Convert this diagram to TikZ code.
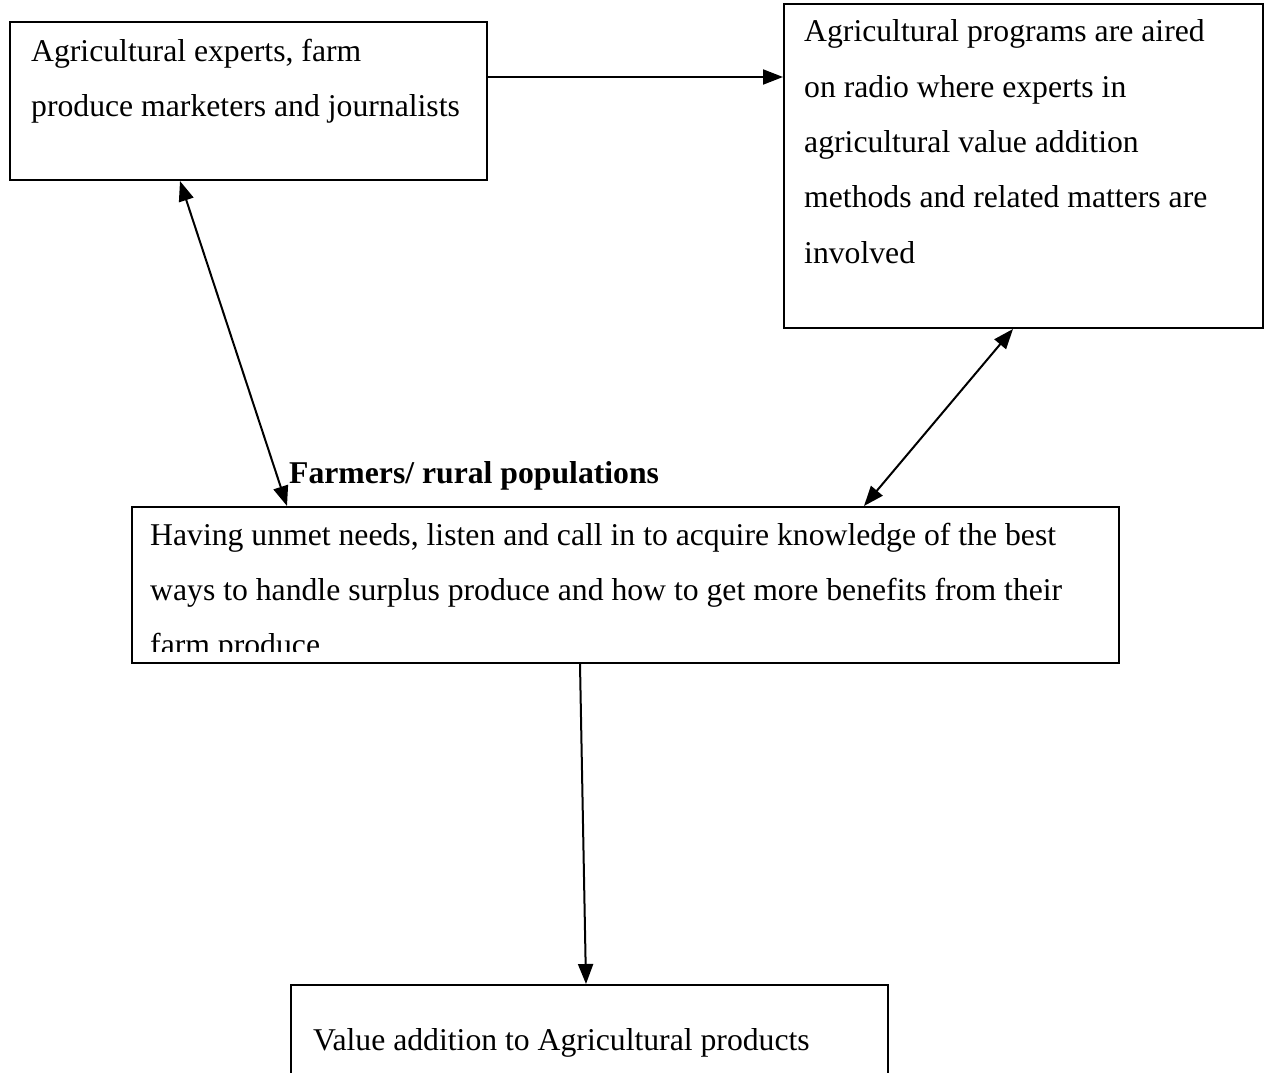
\documentclass[tikz,border=0pt]{standalone}
\usepackage{fontspec}
\setmainfont{Liberation Serif}
\usetikzlibrary{arrows.meta}
\tikzset{
  boxnode/.style={draw, line width=2pt, inner sep=0pt, anchor=north west},
  txt/.style={anchor=base west, inner sep=0pt},
  arr/.style={line width=2pt, -{Triangle[length=20pt,width=15pt]}},
  darr/.style={line width=2pt, {Triangle[length=20pt,width=15pt]}-{Triangle[length=20pt,width=15pt]}}
}
\begin{document}
\begin{tikzpicture}[x=1pt,y=-1pt,font=\fontsize{31.7}{54.5}\selectfont]
\clip (0,0) rectangle (1267,1073);
\fill[white] (0,0) rectangle (1267,1073);
% boxes
\node[boxnode, minimum width=477pt, minimum height=158pt] (b1) at (9,21) {};
\node[boxnode, minimum width=479pt, minimum height=324pt] (b2) at (783,3) {};
\node[boxnode, minimum width=987pt, minimum height=156pt] (b3) at (131,506) {};
\node[boxnode, minimum width=597pt, minimum height=150pt] (b4) at (290,984) {};
% texts
\node[txt] (t1) at (31,62) {\parbox[t]{450pt}{\raggedright Agricultural experts, farm\\produce marketers and journalists}};
\node[txt] (t2) at (804,42) {\parbox[t]{450pt}{\raggedright\fontsize{31.7}{55.3}\selectfont Agricultural programs are aired\\on radio where experts in\\agricultural value addition\\methods and related matters are\\involved}};
\begin{scope}
\clip (131,506) rectangle (1118,651);
\node[txt] (t3) at (150,545) {\parbox[t]{960pt}{\raggedright\fontsize{31.7}{55}\selectfont Having unmet needs, listen and call in to acquire knowledge of the best\\ways to handle surplus produce and how to get more benefits from their\\farm produce}};
\end{scope}
\node[txt] (t4) at (313,1050) {Value addition to Agricultural products};
\node[txt, font=\fontsize{31.7}{54.5}\selectfont\bfseries] (farmers) at (289,483) {Farmers/ rural populations};
% connectors
\draw[arr] (b1.east |- 0,77) -- (b2.west |- 0,77);
\draw[darr] (b1.south -| 180,0) -- (b3.north -| 287,0);
\draw[darr] (b2.south -| 1013,0) -- (b3.north -| 864,0);
\draw[arr] (b3.south -| 580,0) -- (b4.north -| 586,0);
\end{tikzpicture}
\end{document}
